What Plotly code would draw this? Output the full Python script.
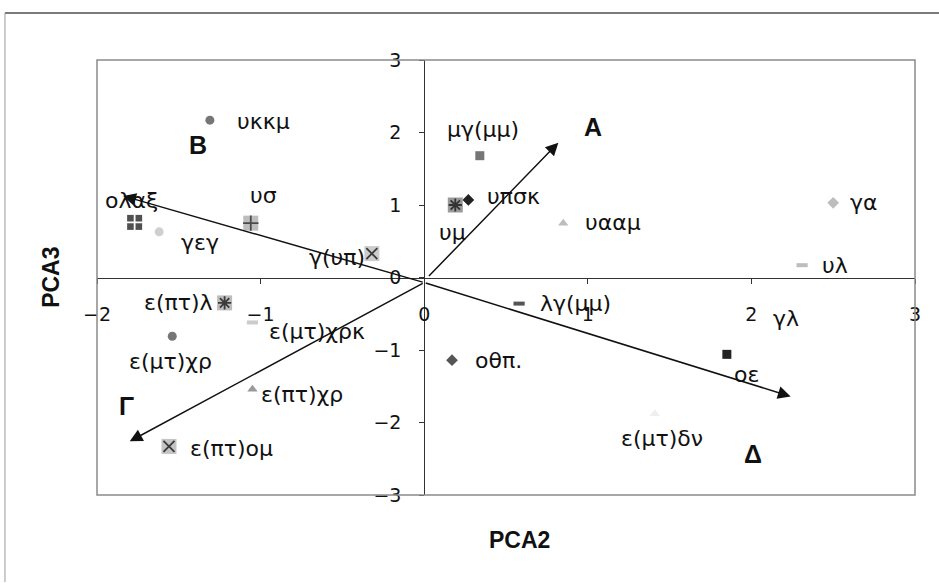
import plotly.graph_objects as go

# --- sample scores on the second and third principal components ---
names = ["υκκμ", "ολαξ", "γεγ", "υσ", "γ(υπ)", "μγ(μμ)", "υπσκ", "υμ", "υααμ",
         "γα", "υλ", "ε(πτ)λ", "ε(μτ)χρκ", "ε(μτ)χρ", "ε(πτ)χρ", "ε(πτ)ομ",
         "λγ(μμ)", "γλ", "οθπ.", "οε", "ε(μτ)δν"]
pca2 = [-1.31, -1.77, -1.62, -1.06, -0.32, 0.34, 0.27, 0.19, 0.85,
        2.50, 2.31, -1.22, -1.05, -1.54, -1.05, -1.56,
        0.58, 2.04, 0.17, 1.85, 1.41]
pca3 = [2.17, 0.76, 0.63, 0.75, 0.33, 1.68, 1.07, 1.00, 0.75,
        1.03, 0.17, -0.35, -0.62, -0.81, -1.54, -2.33,
        -0.36, -0.56, -1.14, -1.06, -1.88]

# --- loading vectors (tail -> tip) ---
vec_names = ["A", "B", "Γ", "Δ"]
vec_tail_x = [0.02, 0.0, 0.0, 0.0]
vec_tail_y = [0.0, -0.07, -0.07, -0.07]
vec_tip_x = [0.82, -1.84, -1.80, 2.24]
vec_tip_y = [1.86, 1.125, -2.26, -1.64]
vec_label_x = [1.03, -1.38, -1.82, 2.01]
vec_label_y = [2.07, 1.83, -1.77, -2.43]

x_ticks = [-2, -1, 0, 1, 2, 3]
y_ticks = [-3, -2, -1, 0, 1, 2, 3]

# marker look per sample: (symbol, fill colour, overlay symbol, overlay colour)
marker_look = {
    "υκκμ": ("circle", "#767676", None, None),
    "ολαξ": ("square", "#505050", "cross-thin-open", "#ffffff"),
    "γεγ": ("circle", "#cfcfcf", None, None),
    "υσ": ("square", "#bdbdbd", "cross-thin-open", "#4a4a4a"),
    "γ(υπ)": ("square", "#cccccc", "x-thin-open", "#3a3a3a"),
    "μγ(μμ)": ("square", "#767676", None, None),
    "υπσκ": ("diamond", "#222222", None, None),
    "υμ": ("square", "#9a9a9a", "asterisk-open", "#333333"),
    "υααμ": ("triangle-up", "#bdbdbd", None, None),
    "γα": ("diamond", "#bdbdbd", None, None),
    "υλ": ("line-ew-open", "#bdbdbd", None, None),
    "ε(πτ)λ": ("square", "#bdbdbd", "asterisk-open", "#3a3a3a"),
    "ε(μτ)χρκ": ("line-ew-open", "#cccccc", None, None),
    "ε(μτ)χρ": ("circle", "#767676", None, None),
    "ε(πτ)χρ": ("triangle-up", "#9a9a9a", None, None),
    "ε(πτ)ομ": ("square", "#c4c4c4", "x-thin-open", "#3a3a3a"),
    "λγ(μμ)": ("line-ew-open", "#555555", None, None),
    "γλ": ("circle", "#ffffff", None, None),
    "οθπ.": ("diamond", "#555555", None, None),
    "οε": ("square", "#222222", None, None),
    "ε(μτ)δν": ("triangle-up", "#efefef", None, None),
}

# label anchor and pixel offset from the marker (dx right, dy down)
label_place = {
    "υκκμ": ("left", 25, 1), "ολαξ": ("center", -3, -22), "γεγ": ("left", 20, 11),
    "υσ": ("center", 13, -28), "γ(υπ)": ("right", -5, 4), "μγ(μμ)": ("center", 3, -26),
    "υπσκ": ("left", 17, -3), "υμ": ("center", -3, 27), "υααμ": ("left", 20, -1),
    "γα": ("left", 15, 0), "υλ": ("left", 18, 0), "ε(πτ)λ": ("right", -10, 0),
    "ε(μτ)χρκ": ("left", 15, 9), "ε(μτ)χρ": ("center", -2, 25), "ε(πτ)χρ": ("left", 7, 5),
    "ε(πτ)ομ": ("left", 19, 2), "λγ(μμ)": ("left", 19, 0), "γλ": ("left", 13, 0),
    "οθπ.": ("left", 21, 0), "οε": ("center", 20, 20), "ε(μτ)δν": ("center", 7, 25),
}

LABEL_FONT = "DejaVu Sans, Verdana, sans-serif"
TITLE_FONT = "Liberation Sans, Arial, sans-serif"
TXT = 22
INK = "#111111"

fig = go.Figure()

for name, x, y in zip(names, pca2, pca3):
    sym, col, over, ocol = marker_look[name]
    if sym.startswith("line"):
        mk = dict(symbol=sym, size=8, color=col, line=dict(color=col, width=4))
    else:
        size = 15 if over else 9
        mk = dict(symbol=sym, size=size, color=col, line=dict(width=0))
    fig.add_trace(go.Scatter(x=[x], y=[y], mode="markers", marker=mk,
                             showlegend=False, hoverinfo="skip"))
    if over:
        fig.add_trace(go.Scatter(x=[x], y=[y], mode="markers",
                                 marker=dict(symbol=over, size=11, color=ocol,
                                             line=dict(color=ocol, width=1.8)),
                                 showlegend=False, hoverinfo="skip"))

annotations = []
for name, x, y in zip(names, pca2, pca3):
    anchor, dx, dy = label_place[name]
    annotations.append(dict(x=x, y=y, xref="x", yref="y", text=name, showarrow=False,
                            xanchor=anchor, yanchor="middle", xshift=dx, yshift=-dy,
                            font=dict(family=LABEL_FONT, size=TXT, color=INK)))

# loading vectors drawn as arrows from the origin
for tx, ty, hx, hy in zip(vec_tail_x, vec_tail_y, vec_tip_x, vec_tip_y):
    annotations.append(dict(x=hx, y=hy, ax=tx, ay=ty, xref="x", yref="y",
                            axref="x", ayref="y", showarrow=True, arrowhead=2,
                            arrowsize=1.7, arrowwidth=1.5, arrowcolor=INK,
                            text=""))
for lab, lx, ly in zip(vec_names, vec_label_x, vec_label_y):
    annotations.append(dict(x=lx, y=ly, xref="x", yref="y", text="<b>%s</b>" % lab,
                            showarrow=False,
                            font=dict(family=TITLE_FONT, size=25, color=INK)))

# axis titles
annotations.append(dict(x=-0.057, y=0.5, xref="paper", yref="paper", text="<b>PCA3</b>",
                        textangle=-90, showarrow=False, xanchor="center", yanchor="middle",
                        font=dict(family=TITLE_FONT, size=23, color=INK)))
annotations.append(dict(x=0.516, y=-0.103, xref="paper", yref="paper", text="<b>PCA2</b>",
                        showarrow=False, xanchor="center", yanchor="middle",
                        font=dict(family=TITLE_FONT, size=23, color=INK)))

shapes = [
    # plot area border
    dict(type="rect", xref="paper", yref="paper", x0=0, y0=0, x1=1, y1=1,
         line=dict(color="#8a8a8a", width=1.5)),
    # chart area frame (top and left edges)
    dict(type="line", xref="paper", yref="paper", x0=-0.1125, x1=1.04, y0=1.108, y1=1.108,
         line=dict(color="#7a7a7a", width=2)),
    dict(type="line", xref="paper", yref="paper", x0=-0.1125, x1=-0.1125, y0=1.108, y1=-0.2,
         line=dict(color="#9a9a9a", width=1)),
]

axis_common = dict(ticks="outside", ticklen=5, tickcolor="#333333", showline=True,
                   linecolor="#333333", linewidth=1, showgrid=False, zeroline=False,
                   anchor="free",
                   tickfont=dict(family=LABEL_FONT, size=19, color=INK))

fig.update_layout(
    width=939, height=583,
    margin=dict(l=97, r=24, t=60, b=88),
    paper_bgcolor="white", plot_bgcolor="white",
    xaxis=dict(axis_common, range=[-2, 3], tickvals=x_ticks,
               position=0.5, ticklabelstandoff=15),
    yaxis=dict(axis_common, range=[-3, 3], tickvals=y_ticks,
               position=0.4, ticklabelstandoff=14),
    annotations=annotations, shapes=shapes,
)

fig.write_html("out.html")
